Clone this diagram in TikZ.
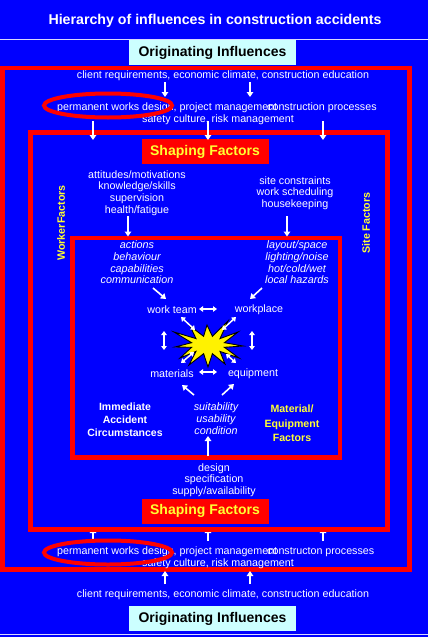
\documentclass[tikz,border=0pt]{standalone}
\usepackage{fontspec}
\setmainfont{Liberation Sans}
\usetikzlibrary{arrows.meta}
\definecolor{bg}{HTML}{0000FF}
\definecolor{rd}{HTML}{FF0000}
\definecolor{yl}{HTML}{FFFF33}
\definecolor{cy}{HTML}{CCFFFF}
\begin{document}
\begin{tikzpicture}[x=1pt,y=-1pt,
  txt/.style={text=white, font=\fontsize{10.7}{11.7}\selectfont, inner sep=0pt, align=center, yshift=-1pt},
  itxt/.style={txt, font=\fontsize{10.8}{11.7}\selectfont\itshape},
  btxt/.style={txt, font=\fontsize{10.5}{13}\selectfont\bfseries},
  frame/.style={draw=rd, line width=4.5pt},
  ring/.style={draw=rd, line width=4pt},
  originbox/.style={fill=cy, text=black, font=\fontsize{14}{16}\selectfont\bfseries, minimum width=167pt, minimum height=25pt, inner sep=0pt},
  shapebox/.style={fill=rd, text=yl, font=\fontsize{14}{16}\selectfont\bfseries, minimum width=127pt, minimum height=25pt, inner sep=0pt},
  arr/.style={draw=white, line width=1.6pt, -{Triangle[length=5pt,width=6.5pt]}},
  darr/.style={draw=white, line width=1.5pt, {Triangle[length=4pt,width=5.5pt]}-{Triangle[length=4pt,width=5.5pt]}},
  sidelabel/.style={text=yl, font=\fontsize{10.7}{12}\selectfont\bfseries, rotate=90, inner sep=0pt},
]
\useasboundingbox (0,0) rectangle (428,637);
\fill[bg] (0,0) rectangle (428,637);

% title and rules
\node[text=white, font=\fontsize{14.2}{16}\selectfont\bfseries, inner sep=0pt] (title) at (215,21) {Hierarchy of influences in construction accidents};
\coordinate (rl1) at (0,39); \coordinate (rr1) at (428,39);
\draw[white!85!bg, line width=1pt] (rl1) -- (rr1);
\coordinate (rl2) at (0,634.5); \coordinate (rr2) at (428,634.5);
\draw[white!85!bg, line width=1pt] (rl2) -- (rr2);

% originating influences boxes
\node[originbox] (origTop) at (212.5,52.5) {Originating Influences};
\node[originbox] (origBot) at (212.5,618.5) {Originating Influences};

% arrows (drawn under frames where partly hidden)
\foreach \n/\x in {a/93,b/208,c/323}{
  \coordinate (bs\n1) at (\x,541);
  \coordinate (bs\n2) at (\x,528);
  \draw[arr] (bs\n1) -- (bs\n2);
}

% frames
\draw[frame] (2.5,68) rectangle (409.5,569.5);
\draw[frame] (30.5,132.5) rectangle (387.5,529.5);
\draw[frame] (72.5,238) rectangle (340,457.5);

\node[shapebox] (shTop) at (205,151.5) {Shaping Factors};
\node[shapebox] (shBot) at (205,511) {Shaping Factors};

% originating influences texts
\node[txt] (clientTop) at (223,75) {client requirements, economic climate, construction education};
\node[txt] (clientBot) at (223,594) {client requirements, economic climate, construction education};
\node[txt, anchor=west] (pwdTop) at (57,107) {permanent works design, project management};
\node[txt, anchor=west] (cpTop) at (267,107) {construction processes};
\node[txt] (scTop) at (218,119) {safety culture, risk management};
\node[txt, anchor=west] (pwdBot) at (57,551) {permanent works design, project management};
\node[txt, anchor=west] (cpBot) at (267,551) {constructon processes};
\node[txt] (scBot) at (218,563) {safety culture, risk management};

\draw[ring] (108,105.5) ellipse [x radius=64pt, y radius=12pt];
\draw[ring] (108,552.5) ellipse [x radius=64pt, y radius=12pt];

% arrows top
\foreach \n/\x in {a/165,b/250}{
  \coordinate (ct\n1) at (\x,82); \coordinate (ct\n2) at (\x,97);
  \draw[arr] (ct\n1) -- (ct\n2);
  \coordinate (cb\n1) at (\x,584); \coordinate (cb\n2) at (\x,571);
  \draw[arr] (cb\n1) -- (cb\n2);
}
\foreach \n/\x in {a/93,b/208,c/323}{
  \coordinate (ts\n1) at (\x,121); \coordinate (ts\n2) at (\x,140);
  \draw[arr] (ts\n1) -- (ts\n2);
}

% shaping factors texts
\node[txt] (worker) at (137,192) {attitudes/motivations\\knowledge/skills\\supervision\\health/fatigue};
\node[txt] (site) at (295,192) {site constraints\\work scheduling\\housekeeping};
\node[sidelabel] (wfLabel) at (61,223) {WorkerFactors};
\node[sidelabel] (sfLabel) at (366,223) {Site Factors};
\coordinate (w1) at (128,216); \coordinate (w2) at (128,236.5);
\draw[arr] (w1) -- (w2);
\coordinate (s1) at (287,216); \coordinate (s2) at (287,236.5);
\draw[arr] (s1) -- (s2);

\node[txt] (design) at (214,479) {design\\specification\\supply/availability};

% inner texts
\node[itxt] (acts) at (137,261.5) {actions\\behaviour\\capabilities\\communication};
\node[itxt] (layout) at (297,261.5) {layout/space\\lighting/noise\\hot/cold/wet\\local hazards};
\node[txt] (team) at (172,309) {work team};
\node[txt] (wplace) at (259,309) {workplace};
\node[txt] (mats) at (172,373) {materials};
\node[txt] (equip) at (253,373) {equipment};
\node[btxt] (iac) at (125,419) {Immediate\\Accident\\Circumstances};
\node[itxt] (suit) at (216,417.5) {suitability\\usability\\condition};
\node[btxt, text=yl, font=\fontsize{10.6}{14.5}\selectfont\bfseries] (mef) at (292,422.5) {Material/\\Equipment\\Factors};

% explosion
\filldraw[fill=yellow, draw=black, line width=0.9pt]
  (243,346) -- (224.4,342.7) -- (238,332) -- (220,338.6) -- (228,321) -- (212.4,336.3)
  -- (207,325) -- (203.6,336.3) -- (190,326) -- (196,338.6) -- (174,332) -- (191.6,342.7)
  -- (175,347) -- (191.6,347.3) -- (180,358) -- (196,351.4) -- (189,365) -- (203.6,353.7)
  -- (208,367) -- (212.4,353.7) -- (225,364) -- (220,351.4) -- (239,358) -- (224.4,347.3) -- cycle;

% inner arrows
\coordinate (a1) at (153,288); \coordinate (a2) at (166,299);
\draw[arr] (a1) -- (a2);
\coordinate (b1) at (262,288); \coordinate (b2) at (250,299);
\draw[arr] (b1) -- (b2);
\coordinate (h1) at (199,309); \coordinate (h2) at (217,309);
\draw[darr] (h1) -- (h2);
\coordinate (h3) at (199,372); \coordinate (h4) at (217,372);
\draw[darr] (h3) -- (h4);
\coordinate (d1) at (181,317); \coordinate (d2) at (195,330);
\draw[darr] (d1) -- (d2);
\coordinate (d3) at (236,317); \coordinate (d4) at (222,330);
\draw[darr] (d3) -- (d4);
\coordinate (d5) at (181,363); \coordinate (d6) at (194,352);
\draw[darr] (d5) -- (d6);
\coordinate (d7) at (236,363); \coordinate (d8) at (226,354);
\draw[darr] (d7) -- (d8);
\coordinate (v1) at (164,331); \coordinate (v2) at (164,350);
\draw[darr] (v1) -- (v2);
\coordinate (v3) at (252,331); \coordinate (v4) at (252,350);
\draw[darr] (v3) -- (v4);
\coordinate (m1) at (194,395); \coordinate (m2) at (182,385);
\draw[arr] (m1) -- (m2);
\coordinate (e1) at (222,395); \coordinate (e2) at (234,384);
\draw[arr] (e1) -- (e2);
\coordinate (u1) at (208,456); \coordinate (u2) at (208,436);
\draw[arr] (u1) -- (u2);
\end{tikzpicture}
\end{document}
